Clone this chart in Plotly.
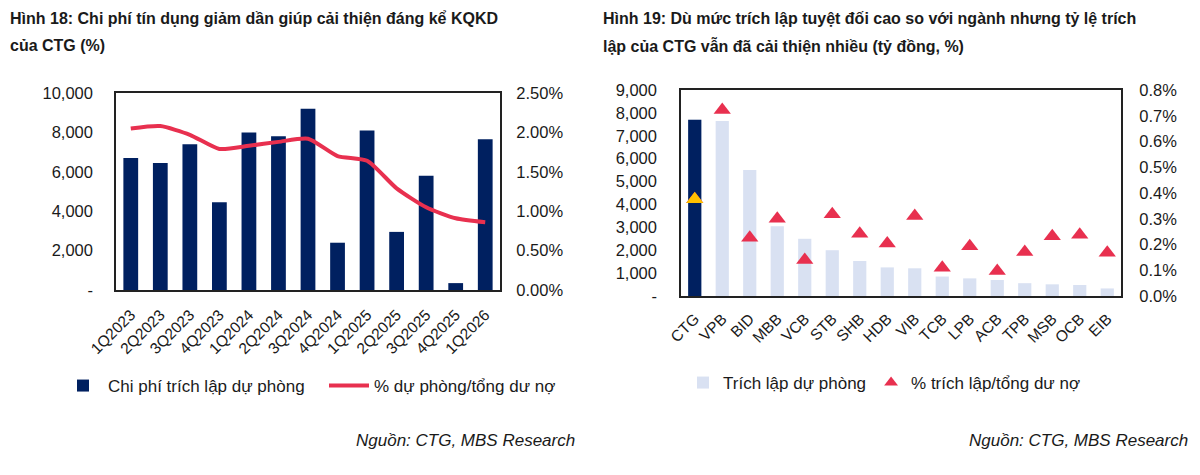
import plotly.graph_objects as go

# ---------------- data ----------------
quarters = ["1Q2023", "2Q2023", "3Q2023", "4Q2023", "1Q2024", "2Q2024", "3Q2024",
            "4Q2024", "1Q2025", "2Q2025", "3Q2025", "4Q2025", "1Q2026"]
provision_cost = [6700, 6450, 7400, 4450, 8000, 7800, 9200, 2400, 8100, 2950, 5800, 350, 7650]
provision_ratio = [2.05, 2.08, 1.97, 1.79, 1.83, 1.88, 1.92, 1.70, 1.64, 1.29, 1.05, 0.91, 0.86]

banks = ["CTG", "VPB", "BID", "MBB", "VCB", "STB", "SHB", "HDB", "VIB", "TCB",
         "LPB", "ACB", "TPB", "MSB", "OCB", "EIB"]
bank_provision = [7700, 7650, 5500, 3050, 2500, 2000, 1530, 1250, 1210, 850,
                  770, 700, 560, 510, 480, 330]
bank_ratio = [0.376, 0.722, 0.226, 0.300, 0.140, 0.317, 0.242, 0.204, 0.311, 0.110,
              0.193, 0.097, 0.171, 0.232, 0.238, 0.168]

left_y_vals = [0, 2000, 4000, 6000, 8000, 10000]
left_y_text = ["-", "2,000", "4,000", "6,000", "8,000", "10,000"]
left_y2_vals = [0, 0.5, 1.0, 1.5, 2.0, 2.5]
left_y2_text = ["0.00%", "0.50%", "1.00%", "1.50%", "2.00%", "2.50%"]
right_y_vals = [0, 1000, 2000, 3000, 4000, 5000, 6000, 7000, 8000, 9000]
right_y_text = ["-", "1,000", "2,000", "3,000", "4,000", "5,000", "6,000", "7,000", "8,000", "9,000"]
right_y2_vals = [0, 0.1, 0.2, 0.3, 0.4, 0.5, 0.6, 0.7, 0.8]
right_y2_text = ["0.0%", "0.1%", "0.2%", "0.3%", "0.4%", "0.5%", "0.6%", "0.7%", "0.8%"]

# ---------------- style ----------------
NAVY = "#002060"
LIGHT = "#D9E1F2"
RED = "#E8304F"
YELLOW = "#FFC000"
TXT = "#1a1a1a"
FONT = "Liberation Sans, Arial, sans-serif"
W, H = 1200, 475


def px_x(x):
    return x / W


def px_y(y):
    return 1 - y / H


fig = go.Figure()

# ---- left chart ----
fig.add_trace(go.Bar(
    x=quarters, y=provision_cost, name="Chi phí trích lập dự phòng",
    marker=dict(color=NAVY, line=dict(width=0)), width=0.5,
    xaxis="x", yaxis="y", legend="legend"))
fig.add_trace(go.Scatter(
    x=quarters, y=provision_ratio, name="% dự phòng/tổng dư nợ", mode="lines",
    line=dict(color=RED, width=4, shape="spline", smoothing=0.6),
    xaxis="x", yaxis="y2", legend="legend"))

# ---- right chart ----
fig.add_trace(go.Bar(
    x=banks, y=bank_provision, name="Trích lập dự phòng",
    marker=dict(color=LIGHT, line=dict(width=0)), width=0.48,
    xaxis="x2", yaxis="y3", legend="legend2"))
fig.add_trace(go.Bar(
    x=banks[:1], y=bank_provision[:1], name="CTG", showlegend=False,
    marker=dict(color=NAVY, line=dict(width=0)), width=0.48,
    xaxis="x2", yaxis="y3"))
fig.add_trace(go.Scatter(
    x=banks, y=bank_ratio, name="% trích lập/tổng dư nợ", mode="markers",
    marker=dict(symbol="triangle-up", color=RED, size=15),
    xaxis="x2", yaxis="y4", legend="legend2"))
fig.add_trace(go.Scatter(
    x=banks[:1], y=bank_ratio[:1], name="CTG %", mode="markers", showlegend=False,
    marker=dict(symbol="triangle-up", color=YELLOW, size=15),
    xaxis="x2", yaxis="y4"))

axis_line = dict(showline=True, linecolor="#222", linewidth=1.5, mirror=True)
ytickfont = dict(family=FONT, size=16.5, color=TXT)
xtickfont = dict(family=FONT, size=15.5, color=TXT)
common = dict(automargin=False, showgrid=False, zeroline=False,
              ticks="outside", tickcolor="rgba(0,0,0,0)")

fig.update_layout(
    width=W, height=H,
    margin=dict(l=0, r=0, t=0, b=0, autoexpand=False),
    paper_bgcolor="white", plot_bgcolor="white",
    barmode="overlay",
    font=dict(family=FONT, size=15, color=TXT),
    xaxis=dict(domain=[px_x(116), px_x(500)], anchor="y", tickangle=-45,
               range=[-0.5, len(quarters) - 0.5],
               tickfont=xtickfont, ticklen=8, **common, **axis_line),
    yaxis=dict(range=[0, 10000], tickvals=left_y_vals, ticktext=left_y_text,
               domain=[px_y(290), px_y(93)], anchor="x",
               tickfont=ytickfont, ticklen=18, **common, **axis_line),
    yaxis2=dict(range=[0, 2.5], tickvals=left_y2_vals, ticktext=left_y2_text,
                overlaying="y", side="right", anchor="x",
                tickfont=ytickfont, ticklen=12, **common),
    xaxis2=dict(domain=[px_x(681), px_x(1121)], anchor="y3", tickangle=-45,
                range=[-0.5, len(banks) - 0.5],
                tickfont=xtickfont, ticklen=6, **common, **axis_line),
    yaxis3=dict(range=[0, 9000], tickvals=right_y_vals, ticktext=right_y_text,
                domain=[px_y(296), px_y(90)], anchor="x2",
                tickfont=ytickfont, ticklen=19, **common, **axis_line),
    yaxis4=dict(range=[0, 0.8], tickvals=right_y2_vals, ticktext=right_y2_text,
                overlaying="y3", side="right", anchor="x2",
                tickfont=ytickfont, ticklen=14, **common),
    legend=dict(orientation="h", x=px_x(58), y=px_y(386), xanchor="left",
                yanchor="middle", font=dict(family=FONT, size=17, color=TXT),
                bgcolor="rgba(0,0,0,0)", itemwidth=40, entrywidth=211,
                traceorder="normal"),
    legend2=dict(orientation="h", x=px_x(683), y=px_y(383), xanchor="left",
                 yanchor="middle", font=dict(family=FONT, size=17, color=TXT),
                 bgcolor="rgba(0,0,0,0)", itemwidth=30,
                 itemsizing="constant", traceorder="normal"),
)

title_font = dict(family=FONT, size=16, color=TXT)
annotations = [
    dict(text="<b>Hình 18: Chi phí tín dụng giảm dần giúp cải thiện đáng kể KQKD</b>",
         x=px_x(8), y=px_y(18)),
    dict(text="<b>của CTG (%)</b>", x=px_x(8), y=px_y(46)),
    dict(text="<b>Hình 19: Dù mức trích lập tuyệt đối cao so với ngành nhưng tỷ lệ trích</b>",
         x=px_x(601), y=px_y(18)),
    dict(text="<b>lập của CTG vẫn đã cải thiện nhiều (tỷ đồng, %)</b>", x=px_x(601), y=px_y(46)),
]
for a in annotations:
    fig.add_annotation(xref="paper", yref="paper", xanchor="left", yanchor="middle",
                       showarrow=False, font=title_font, **a)

for xr in (577, 1190):
    fig.add_annotation(xref="paper", yref="paper", x=px_x(xr), y=px_y(440),
                       xanchor="right", yanchor="middle", showarrow=False,
                       text="<i>Nguồn: CTG, MBS Research</i>",
                       font=dict(family=FONT, size=17, color=TXT))

fig.write_html("out.html")
